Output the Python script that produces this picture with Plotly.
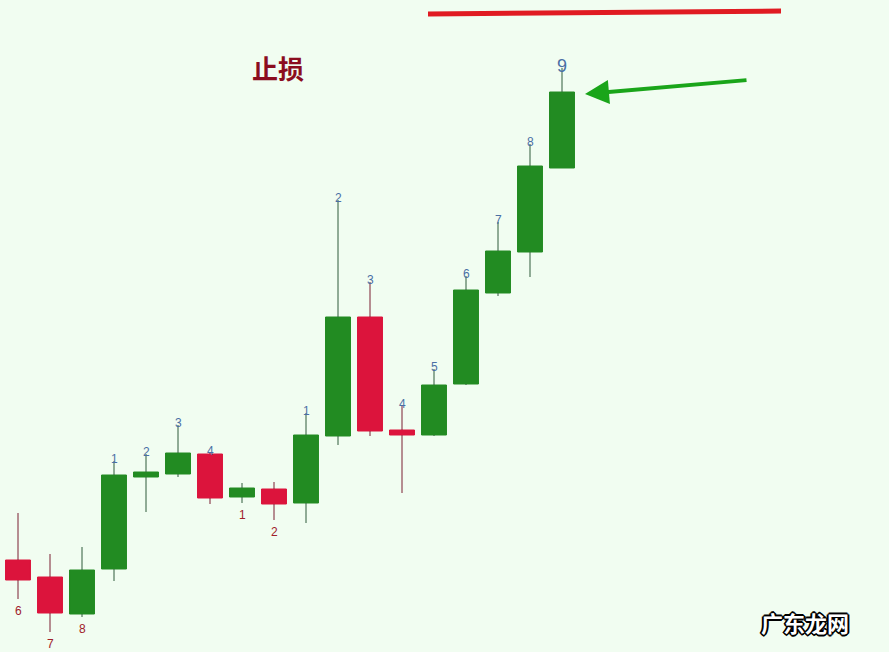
import plotly.graph_objects as go

# Candle index (x) and OHLC values (price units)
idx = list(range(18))
open_ = [92, 75, 38, 83, 175, 178, 198, 155, 163, 149, 216, 335, 222, 217, 268, 359, 400, 484]
high = [139, 98, 105, 191, 198, 227, 199, 169, 170, 239, 452, 370, 246, 283, 376, 430, 508, 584]
low = [53, 20, 35, 71, 140, 175, 148, 149, 132, 129, 207, 216, 159, 216, 267, 356, 375, 484]
close = [72, 39, 82, 177, 180, 199, 154, 164, 148, 217, 335, 221, 217, 267, 362, 401, 486, 560]

labels = ["6", "7", "8", "1", "2", "3", "4", "1", "2", "1", "2", "3", "4", "5", "6", "7", "8", "9"]
label_below = [True, True, True, False, False, False, False, True, True,
               False, False, False, False, False, False, False, False, False]

GREEN = "#228B22"
RED = "#DC143C"
GREEN_WICK = "#2E5A3A"
RED_WICK = "#7A1F33"
BG = "#F1FDF1"

fig = go.Figure()

body_top = [max(o, c) for o, c in zip(open_, close)]
body_bot = [min(o, c) for o, c in zip(open_, close)]

# Wicks (dark thin lines) outside the bodies
for up, col in ((True, GREEN_WICK), (False, RED_WICK)):
    wx, wy = [], []
    for i in idx:
        if (close[i] >= open_[i]) == up:
            if high[i] > body_top[i]:
                wx += [idx[i], idx[i], None]
                wy += [body_top[i], high[i], None]
            if low[i] < body_bot[i]:
                wx += [idx[i], idx[i], None]
                wy += [low[i], body_bot[i], None]
    fig.add_trace(go.Scatter(x=wx, y=wy, mode="lines", line=dict(color=col, width=1),
                             hoverinfo="skip", showlegend=False))

fig.add_trace(go.Candlestick(
    x=idx, open=open_, high=body_top, low=body_bot, close=close,
    increasing=dict(line=dict(color=GREEN, width=1), fillcolor=GREEN),
    decreasing=dict(line=dict(color=RED, width=1), fillcolor=RED),
    hoverinfo="skip", showlegend=False,
))

annotations = []
for i, t in enumerate(labels):
    if label_below[i]:
        annotations.append(dict(
            x=idx[i], y=low[i], text=t, showarrow=False, yanchor="top", yshift=-3,
            font=dict(family="Liberation Sans, Arial", size=12, color="#A0202A"),
        ))
    else:
        big = (i == len(labels) - 1)
        annotations.append(dict(
            x=idx[i], y=high[i], text=t, showarrow=False, yanchor="middle", yshift=2,
            font=dict(family="Liberation Sans, Arial", size=18 if big else 12, color="#4A6FA5"),
        ))

# Title-like label
annotations.append(dict(
    xref="paper", yref="paper", x=278 / 889, y=1 - 68 / 652, text="<b>止损</b>",
    showarrow=False, xanchor="center", yanchor="middle",
    font=dict(family="Noto Sans CJK SC", size=26, color="#8B0D1F"),
))
# Green arrow
annotations.append(dict(
    xref="paper", yref="paper", x=585 / 889, y=1 - 94 / 652, text="",
    showarrow=True, ax=163, ay=-14, arrowhead=2, arrowsize=1.2, arrowwidth=4,
    arrowcolor="#1AA51A", standoff=0,
))
# Watermark
annotations.append(dict(
    xref="paper", yref="paper", x=805 / 889, y=1 - 622 / 652, text="<b>广东龙网</b>",
    showarrow=False, xanchor="center", yanchor="middle",
    font=dict(family="Noto Sans CJK SC", size=22, color="#FFFFFF",
              shadow="-1px -1px 0 #000, 1px -1px 0 #000, -1px 1px 0 #000, 1px 1px 0 #000, 0 2px 0 #000, 2px 0 0 #000, -2px 0 0 #000, 0 -2px 0 #000"),
))

shapes = [dict(
    type="line", xref="paper", yref="paper",
    x0=428 / 889, y0=1 - 14 / 652, x1=781 / 889, y1=1 - 11 / 652,
    line=dict(color="#E01B22", width=5),
)]

fig.update_layout(
    width=889, height=652,
    margin=dict(l=0, r=0, t=0, b=0),
    paper_bgcolor=BG, plot_bgcolor=BG,
    boxgap=0.22, boxgroupgap=0,
    annotations=annotations, shapes=shapes,
    xaxis=dict(range=[-18 / 32, 871 / 32], visible=False, rangeslider=dict(visible=False), fixedrange=True),
    yaxis=dict(range=[0, 652], visible=False, fixedrange=True),
    showlegend=False,
)

fig.write_html("out.html", config=dict(displayModeBar=False),
               post_script="document.body.style.margin='0';document.body.style.background='" + BG + "';")
